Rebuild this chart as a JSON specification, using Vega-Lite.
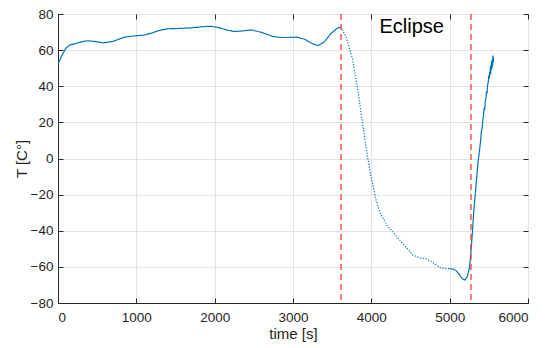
{
  "$schema": "https://vega.github.io/schema/vega-lite/v6.json",
  "width": 470,
  "height": 289,
  "autosize": {"type": "none"},
  "padding": {"left": 58, "top": 14, "right": 19, "bottom": 45},
  "background": "white",
  "config": {
    "view": {"stroke": "#262626", "strokeWidth": 1},
    "font": "Liberation Sans",
    "axis": {
      "labelFont": "Liberation Sans",
      "titleFont": "Liberation Sans",
      "labelColor": "#262626",
      "titleColor": "#262626",
      "labelFontSize": 13.5,
      "titleFontSize": 15,
      "titleFontWeight": "normal",
      "domainColor": "#262626",
      "tickColor": "#262626",
      "gridColor": "#e3e3e3",
      "gridWidth": 1
    }
  },
  "datasets": {
    "temp": [
      {"t": 0, "T": 52.5, "seg": "solid"},
      {"t": 50, "T": 57, "seg": "solid"},
      {"t": 100, "T": 61, "seg": "solid"},
      {"t": 150, "T": 62.8, "seg": "solid"},
      {"t": 250, "T": 64, "seg": "solid"},
      {"t": 370, "T": 65.2, "seg": "solid"},
      {"t": 470, "T": 64.8, "seg": "solid"},
      {"t": 580, "T": 64, "seg": "solid"},
      {"t": 700, "T": 64.8, "seg": "solid"},
      {"t": 850, "T": 67.2, "seg": "solid"},
      {"t": 1000, "T": 68, "seg": "solid"},
      {"t": 1100, "T": 68.3, "seg": "solid"},
      {"t": 1200, "T": 69.5, "seg": "solid"},
      {"t": 1300, "T": 71, "seg": "solid"},
      {"t": 1400, "T": 71.8, "seg": "solid"},
      {"t": 1550, "T": 72, "seg": "solid"},
      {"t": 1700, "T": 72.3, "seg": "solid"},
      {"t": 1850, "T": 73, "seg": "solid"},
      {"t": 1950, "T": 73.2, "seg": "solid"},
      {"t": 2050, "T": 72.5, "seg": "solid"},
      {"t": 2150, "T": 71.2, "seg": "solid"},
      {"t": 2250, "T": 70.3, "seg": "solid"},
      {"t": 2350, "T": 70.6, "seg": "solid"},
      {"t": 2470, "T": 71.2, "seg": "solid"},
      {"t": 2600, "T": 69.8, "seg": "solid"},
      {"t": 2750, "T": 67.5, "seg": "solid"},
      {"t": 2850, "T": 67, "seg": "solid"},
      {"t": 2950, "T": 67, "seg": "solid"},
      {"t": 3050, "T": 67.2, "seg": "solid"},
      {"t": 3150, "T": 66, "seg": "solid"},
      {"t": 3250, "T": 63.5, "seg": "solid"},
      {"t": 3320, "T": 62.5, "seg": "solid"},
      {"t": 3400, "T": 64.5, "seg": "solid"},
      {"t": 3480, "T": 69, "seg": "solid"},
      {"t": 3560, "T": 72, "seg": "solid"},
      {"t": 3613, "T": 72.8, "seg": "solid"},
      {"t": 3613, "T": 72.8, "seg": "dotted"},
      {"t": 3680, "T": 67, "seg": "dotted"},
      {"t": 3760, "T": 55, "seg": "dotted"},
      {"t": 3820, "T": 40, "seg": "dotted"},
      {"t": 3880, "T": 22, "seg": "dotted"},
      {"t": 3940, "T": 4, "seg": "dotted"},
      {"t": 4000, "T": -11, "seg": "dotted"},
      {"t": 4060, "T": -23, "seg": "dotted"},
      {"t": 4110, "T": -30, "seg": "dotted"},
      {"t": 4200, "T": -37, "seg": "dotted"},
      {"t": 4320, "T": -43, "seg": "dotted"},
      {"t": 4420, "T": -48, "seg": "dotted"},
      {"t": 4530, "T": -53.5, "seg": "dotted"},
      {"t": 4620, "T": -55, "seg": "dotted"},
      {"t": 4700, "T": -55.5, "seg": "dotted"},
      {"t": 4800, "T": -58, "seg": "dotted"},
      {"t": 4880, "T": -60.5, "seg": "dotted"},
      {"t": 4950, "T": -61, "seg": "dotted"},
      {"t": 5000, "T": -61, "seg": "dotted"},
      {"t": 5000, "T": -61, "seg": "solid2"},
      {"t": 5040, "T": -61.2, "seg": "solid2"},
      {"t": 5080, "T": -62, "seg": "solid2"},
      {"t": 5120, "T": -64, "seg": "solid2"},
      {"t": 5160, "T": -66.5, "seg": "solid2"},
      {"t": 5195, "T": -67.3, "seg": "solid2"},
      {"t": 5225, "T": -65.5, "seg": "solid2"},
      {"t": 5250, "T": -61, "seg": "solid2"},
      {"t": 5262, "T": -57, "seg": "solid2"},
      {"t": 5275, "T": -50, "seg": "solid2"},
      {"t": 5288, "T": -42, "seg": "solid2"},
      {"t": 5300, "T": -34, "seg": "solid2"},
      {"t": 5312, "T": -27, "seg": "solid2"},
      {"t": 5325, "T": -21, "seg": "solid2"},
      {"t": 5338, "T": -14, "seg": "solid2"},
      {"t": 5350, "T": -8, "seg": "solid2"},
      {"t": 5362, "T": -2, "seg": "solid2"},
      {"t": 5372, "T": 1.5, "seg": "solid2"},
      {"t": 5385, "T": 6, "seg": "solid2"},
      {"t": 5395, "T": 10, "seg": "solid2"},
      {"t": 5405, "T": 15, "seg": "solid2"},
      {"t": 5415, "T": 17, "seg": "solid2"},
      {"t": 5425, "T": 22, "seg": "solid2"},
      {"t": 5432, "T": 24, "seg": "solid2"},
      {"t": 5440, "T": 28, "seg": "solid2"},
      {"t": 5447, "T": 27, "seg": "solid2"},
      {"t": 5455, "T": 32, "seg": "solid2"},
      {"t": 5462, "T": 33, "seg": "solid2"},
      {"t": 5470, "T": 37, "seg": "solid2"},
      {"t": 5477, "T": 36, "seg": "solid2"},
      {"t": 5485, "T": 41, "seg": "solid2"},
      {"t": 5492, "T": 42, "seg": "solid2"},
      {"t": 5500, "T": 46, "seg": "solid2"},
      {"t": 5505, "T": 44, "seg": "solid2"},
      {"t": 5510, "T": 48, "seg": "solid2"},
      {"t": 5515, "T": 46, "seg": "solid2"},
      {"t": 5520, "T": 51, "seg": "solid2"},
      {"t": 5524, "T": 47, "seg": "solid2"},
      {"t": 5528, "T": 52, "seg": "solid2"},
      {"t": 5532, "T": 49, "seg": "solid2"},
      {"t": 5536, "T": 54, "seg": "solid2"},
      {"t": 5540, "T": 50, "seg": "solid2"},
      {"t": 5544, "T": 55, "seg": "solid2"},
      {"t": 5548, "T": 51, "seg": "solid2"},
      {"t": 5552, "T": 57, "seg": "solid2"},
      {"t": 5556, "T": 53, "seg": "solid2"},
      {"t": 5559, "T": 56, "seg": "solid2"}
    ],
    "eclipse": [
      {"t": 3613},
      {"t": 5272}
    ],
    "labels": [
      {"t": 4515, "T": 69.3, "text": "Eclipse"}
    ]
  },
  "layer": [
    {
      "data": {"name": "temp"},
      "mark": {"type": "line", "color": "#0072BD", "strokeWidth": 1.2, "clip": true},
      "encoding": {
        "x": {
          "field": "t",
          "type": "quantitative",
          "scale": {"domain": [0, 6000], "nice": false, "zero": false},
          "axis": {
            "orient": "bottom",
            "title": "time [s]",
            "format": "d",
            "values": [0, 1000, 2000, 3000, 4000, 5000, 6000],
            "grid": true,
            "tickSize": -5,
            "labelPadding": 12,
            "titleX": 235,
            "titleY": 35,
            "titleBaseline": "alphabetic",
            "titleAnchor": "middle"
          }
        },
        "y": {
          "field": "T",
          "type": "quantitative",
          "scale": {"domain": [-80, 80], "nice": false, "zero": false},
          "axis": {
            "orient": "left",
            "title": "T [C°]",
            "format": "d",
            "values": [-80, -60, -40, -20, 0, 20, 40, 60, 80],
            "grid": true,
            "tickSize": -5,
            "labelPadding": 10,
            "titleX": -32,
            "titleY": 144.5,
            "titleAngle": -90,
            "titleBaseline": "alphabetic",
            "titleAnchor": "middle"
          }
        },
        "detail": {"field": "seg"},
        "strokeDash": {
          "field": "seg",
          "type": "nominal",
          "scale": {"domain": ["solid", "dotted", "solid2"], "range": [[1, 0], [1.2, 1.6], [1, 0]]},
          "legend": null
        }
      }
    },
    {
      "data": {"name": "eclipse"},
      "mark": {"type": "rule", "color": "#f03c3c", "strokeWidth": 1.3, "strokeDash": [6, 4]},
      "encoding": {
        "x": {"field": "t", "type": "quantitative", "axis": null}
      }
    },
    {
      "data": {"name": "labels"},
      "mark": {"type": "text", "font": "Liberation Sans", "fontSize": 20, "color": "#000000", "align": "center", "baseline": "alphabetic"},
      "encoding": {
        "x": {
          "field": "t",
          "type": "quantitative",
          "axis": {
            "orient": "top",
            "title": null,
            "labels": false,
            "domain": false,
            "grid": false,
            "tickSize": -5,
            "values": [0, 1000, 2000, 3000, 4000, 5000, 6000]
          }
        },
        "y": {
          "field": "T",
          "type": "quantitative",
          "axis": {
            "orient": "right",
            "title": null,
            "labels": false,
            "domain": false,
            "grid": false,
            "tickSize": -5,
            "values": [-80, -60, -40, -20, 0, 20, 40, 60, 80]
          }
        },
        "text": {"field": "text"}
      }
    }
  ],
  "resolve": {"axis": {"x": "independent", "y": "independent"}}
}
